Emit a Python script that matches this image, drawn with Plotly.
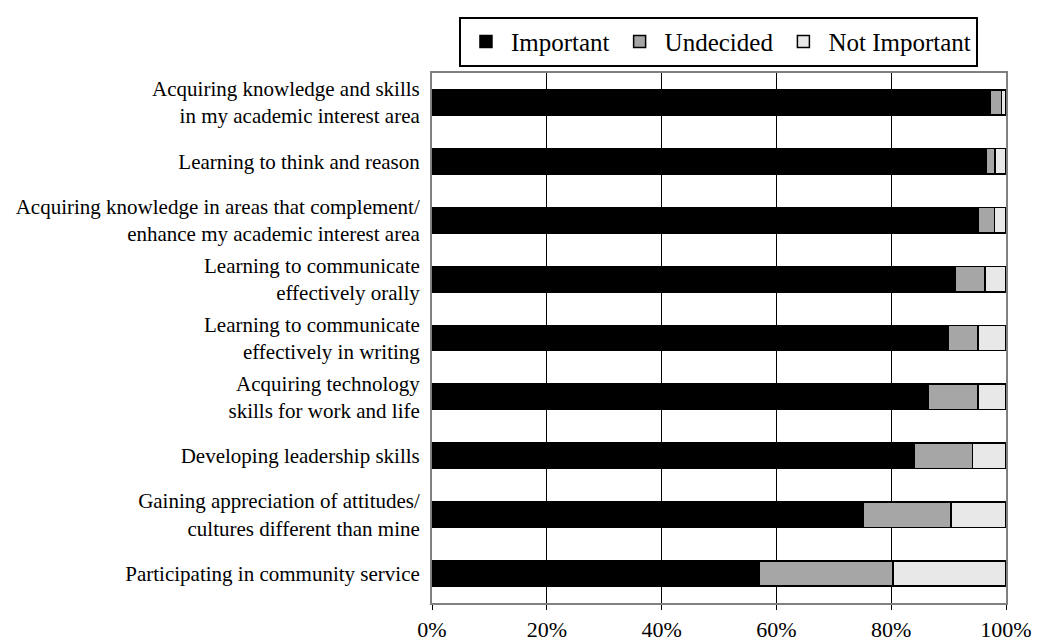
import plotly.graph_objects as go

categories = [
    "Acquiring knowledge and skills<br>in my academic interest area",
    "Learning to think and reason",
    "Acquiring knowledge in areas that complement/<br>enhance my academic interest area",
    "Learning to communicate<br>effectively orally",
    "Learning to communicate<br>effectively in writing",
    "Acquiring technology<br>skills for work and life",
    "Developing leadership skills",
    "Gaining appreciation of attitudes/<br>cultures different than mine",
    "Participating in community service",
]
important = [97.2, 96.5, 95.2, 91.1, 90.0, 86.4, 84.0, 75.1, 57.0]
undecided = [2.0, 1.6, 2.8, 5.2, 5.1, 8.7, 10.2, 15.3, 23.3]
not_important = [0.8, 1.9, 2.0, 3.7, 4.9, 4.9, 5.8, 9.6, 19.7]

series = [
    ("Important", important, "#000000"),
    ("Undecided", undecided, "#a6a6a6"),
    ("Not Important", not_important, "#e8e8e8"),
]

fig = go.Figure()
for name, vals, col in series:
    fig.add_trace(go.Bar(
        y=categories, x=vals, name=name, orientation="h",
        marker=dict(color=col, line=dict(color="#000000", width=1.5)),
    ))

font_family = "Liberation Serif"
fig.update_layout(
    barmode="stack",
    bargap=0.57,
    width=1038, height=636,
    margin=dict(l=424, r=40, t=65, b=41, autoexpand=False),
    paper_bgcolor="white", plot_bgcolor="white",
    font=dict(family=font_family, size=21, color="#000000"),
    showlegend=True,
    legend=dict(
        orientation="h", x=0.047, y=1.106, xanchor="left", yanchor="top",
        bordercolor="#000000", borderwidth=2, bgcolor="white",
        font=dict(size=25, family=font_family), traceorder="normal",
        itemwidth=40,
    ),
    xaxis=dict(
        range=[0, 100], tickvals=[0, 20, 40, 60, 80, 100],
        ticktext=["0%", "20%", "40%", "60%", "80%", "100%"],
        showgrid=True, gridcolor="#000000", gridwidth=1,
        showline=True, linecolor="#808080", linewidth=2, mirror=True,
        ticks="outside", ticklen=5, tickcolor="#000000",
        ticklabelstandoff=1, zeroline=False, automargin=False,
        tickfont=dict(size=22),
    ),
    yaxis=dict(
        categoryorder="array", categoryarray=categories, autorange="reversed",
        showline=True, linecolor="#808080", linewidth=2, mirror=True,
        ticks="", ticklabelstandoff=6, showgrid=False, automargin=False,
        tickfont=dict(size=21),
    ),
)
fig.write_html("out.html")
